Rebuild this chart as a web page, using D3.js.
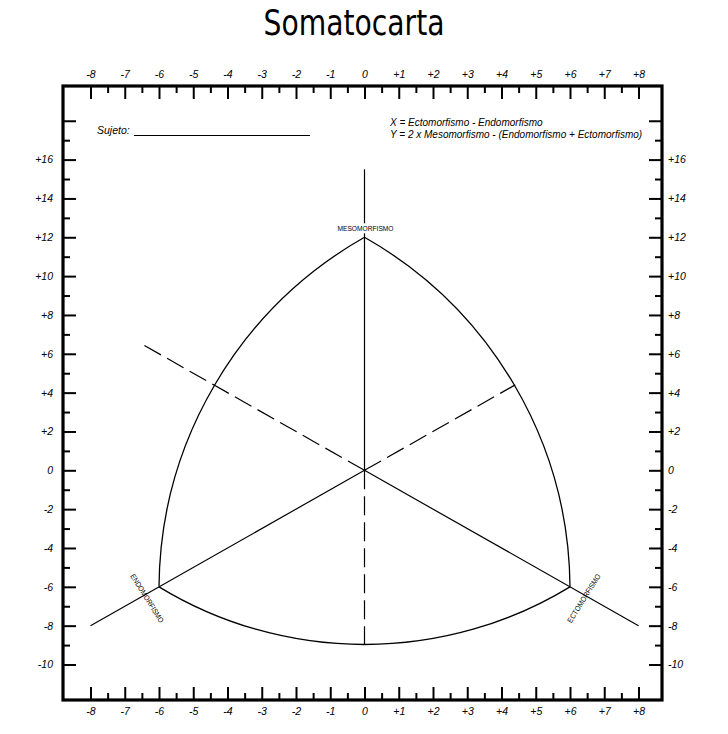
<!DOCTYPE html>
<html>
<head>
<meta charset="utf-8">
<script src="https://cdn.jsdelivr.net/npm/d3@7"></script>
<style>
  html, body { margin: 0; padding: 0; background: #fff; }
</style>
</head>
<body>
<svg id="chart" width="728" height="734"></svg>
<script>
// ---------------- DATA ----------------
const chartTitle = "Somatocarta";
const subjectLabel = "Sujeto:";
const formulaLines = [
  "X = Ectomorfismo - Endomorfismo",
  "Y = 2 x Mesomorfismo - (Endomorfismo + Ectomorfismo)"
];

const xMajorTicks = [-8, -7, -6, -5, -4, -3, -2, -1, 0, 1, 2, 3, 4, 5, 6, 7, 8];
const xTickLabels = ["-8", "-7", "-6", "-5", "-4", "-3", "-2", "-1", "0", "+1", "+2", "+3", "+4", "+5", "+6", "+7", "+8"];
const xMinorTicks = [-7.5, -6.5, -5.5, -4.5, -3.5, -2.5, -1.5, -0.5, 0.5, 1.5, 2.5, 3.5, 4.5, 5.5, 6.5, 7.5];

const yMajorTicks = [-10, -8, -6, -4, -2, 0, 2, 4, 6, 8, 10, 12, 14, 16, 18];
const yTickLabels = ["-10", "-8", "-6", "-4", "-2", "0", "+2", "+4", "+6", "+8", "+10", "+12", "+14", "+16", ""];
const yMinorTicks = [-9, -7, -5, -3, -1, 1, 3, 5, 7, 9, 11, 13, 15, 17];

// Somatotype poles
const poleNames = ["MESOMORFISMO", "ENDOMORFISMO", "ECTOMORFISMO"];
const poleX = [0, -6, 6];
const poleY = [12, -6, -6];

// Boundary arcs: [from pole, to pole, a point on the arc]
const arcFrom = [0, 0, 1];
const arcTo = [1, 2, 2];
const arcMidX = [-5.0, 5.0, 0];
const arcMidY = [2.23, 2.23, -8.97];

// Axes of the somatochart (solid and dashed parts)
const solidSegments = [
  [[0, 15.5], [0, 0]],      // mesomorph axis
  [[-8, -8], [0, 0]],       // endomorph axis
  [[8, -8], [0, 0]]         // ectomorph axis
];
const dashedSegments = [
  [[0, 0], [0, -8.97]],
  [[0, 0], [4.4, 4.4]],
  [[0, 0], [-6.45, 6.45]]
];

// ---------------- LAYOUT ----------------
const frame = { left: 63, top: 86, right: 662, bottom: 700 };
const svg = d3.select("#chart");

const x = d3.scaleLinear().domain([-8, 8]).range([90.5, 638.5]);
const y = d3.scaleLinear().domain([-10, 16]).range([664.5, 159.6]);

const tickFont = "'Liberation Sans', Arial, Helvetica, sans-serif";

// Title
svg.append("text")
  .attr("x", 354).attr("y", 35)
  .attr("text-anchor", "middle")
  .attr("font-family", "'DejaVu Sans', sans-serif")
  .attr("font-size", 35)
  .attr("textLength", 181)
  .attr("lengthAdjust", "spacingAndGlyphs")
  .attr("fill", "#000")
  .text(chartTitle);

// Axes
function styleAxis(g, withText) {
  g.select(".domain").remove();
  g.selectAll(".tick line").attr("stroke", "#000").attr("stroke-width", 2);
  g.attr("font-family", tickFont).attr("font-size", 10.5).attr("font-style", "italic");
  g.selectAll(".tick text").attr("fill", "#000");
  if (!withText) g.selectAll(".tick text").remove();
}

const xLabelOf = d => xTickLabels[xMajorTicks.indexOf(d)];
const yLabelOf = d => yTickLabels[yMajorTicks.indexOf(d)];

svg.append("g").attr("transform", `translate(0,${frame.top})`)
  .call(d3.axisTop(x).tickValues(xMajorTicks).tickSize(-13).tickPadding(8).tickFormat(xLabelOf))
  .call(g => styleAxis(g, true));
svg.append("g").attr("transform", `translate(0,${frame.top})`)
  .call(d3.axisTop(x).tickValues(xMinorTicks).tickSize(-7))
  .call(g => styleAxis(g, false));
svg.append("g").attr("transform", `translate(0,${frame.bottom})`)
  .call(d3.axisBottom(x).tickValues(xMajorTicks).tickSize(-13).tickPadding(8).tickFormat(xLabelOf))
  .call(g => styleAxis(g, true));
svg.append("g").attr("transform", `translate(0,${frame.bottom})`)
  .call(d3.axisBottom(x).tickValues(xMinorTicks).tickSize(-7))
  .call(g => styleAxis(g, false));
svg.append("g").attr("transform", `translate(${frame.left},0)`)
  .call(d3.axisLeft(y).tickValues(yMajorTicks).tickSize(-13).tickPadding(10).tickFormat(yLabelOf))
  .call(g => styleAxis(g, true));
svg.append("g").attr("transform", `translate(${frame.left},0)`)
  .call(d3.axisLeft(y).tickValues(yMinorTicks).tickSize(-7))
  .call(g => styleAxis(g, false));
svg.append("g").attr("transform", `translate(${frame.right},0)`)
  .call(d3.axisRight(y).tickValues(yMajorTicks).tickSize(-13).tickPadding(6).tickFormat(yLabelOf))
  .call(g => styleAxis(g, true));
svg.append("g").attr("transform", `translate(${frame.right},0)`)
  .call(d3.axisRight(y).tickValues(yMinorTicks).tickSize(-7))
  .call(g => styleAxis(g, false));

// Frame
svg.append("rect")
  .attr("x", frame.left).attr("y", frame.top)
  .attr("width", frame.right - frame.left).attr("height", frame.bottom - frame.top)
  .attr("fill", "none").attr("stroke", "#000").attr("stroke-width", 3.2);

// Subject line
svg.append("text")
  .attr("x", 97).attr("y", 134)
  .attr("font-family", tickFont).attr("font-size", 10.5).attr("font-style", "italic")
  .text(subjectLabel);
svg.append("line")
  .attr("x1", 134).attr("x2", 310).attr("y1", 135.5).attr("y2", 135.5)
  .attr("stroke", "#000").attr("stroke-width", 1);

// Formula
svg.append("g").selectAll("text").data(formulaLines).join("text")
  .attr("x", 390).attr("y", (d, i) => 126 + i * 11.5)
  .attr("font-family", tickFont).attr("font-size", 10).attr("font-style", "italic")
  .text(d => d);

// Straight axes
const line = d3.line().x(d => x(d[0])).y(d => y(d[1]));
svg.append("g").selectAll("path").data(solidSegments).join("path")
  .attr("d", line).attr("fill", "none").attr("stroke", "#000").attr("stroke-width", 1.2);
svg.append("g").selectAll("path").data(dashedSegments).join("path")
  .attr("d", line).attr("fill", "none").attr("stroke", "#000").attr("stroke-width", 1.2)
  .attr("stroke-dasharray", "19,7");

// Boundary arcs: circle through the two poles and the arc point (screen space)
function circumcircle(a, b, c) {
  const d = 2 * (a[0] * (b[1] - c[1]) + b[0] * (c[1] - a[1]) + c[0] * (a[1] - b[1]));
  const a2 = a[0] * a[0] + a[1] * a[1], b2 = b[0] * b[0] + b[1] * b[1], c2 = c[0] * c[0] + c[1] * c[1];
  const cx = (a2 * (b[1] - c[1]) + b2 * (c[1] - a[1]) + c2 * (a[1] - b[1])) / d;
  const cy = (a2 * (c[0] - b[0]) + b2 * (a[0] - c[0]) + c2 * (b[0] - a[0])) / d;
  return [cx, cy, Math.hypot(a[0] - cx, a[1] - cy)];
}
function arcPath(i) {
  const p = [x(poleX[arcFrom[i]]), y(poleY[arcFrom[i]])];
  const q = [x(poleX[arcTo[i]]), y(poleY[arcTo[i]])];
  const m = [x(arcMidX[i]), y(arcMidY[i])];
  const [cx, cy, r] = circumcircle(p, q, m);
  const TAU = 2 * Math.PI;
  const a0 = Math.atan2(p[1] - cy, p[0] - cx);
  const a1 = Math.atan2(q[1] - cy, q[0] - cx);
  const am = Math.atan2(m[1] - cy, m[0] - cx);
  const norm = v => ((v % TAU) + TAU) % TAU;
  const ccw = !(norm(am - a0) < norm(a1 - a0));
  const path = d3.path();
  path.moveTo(p[0], p[1]);
  path.arc(cx, cy, r, a0, a1, ccw);
  return path.toString();
}
svg.append("g").selectAll("path").data(arcFrom).join("path")
  .attr("d", (d, i) => arcPath(i))
  .attr("fill", "none").attr("stroke", "#000").attr("stroke-width", 1.3);

// Pole labels
const labelFont = "'Liberation Sans Narrow', 'Liberation Sans', Arial, sans-serif";
const poleLabelOffsets = [[1, -9, 0], [-12, 11.5, 58], [14, 11.5, -58]];
const labels = svg.append("g").selectAll("g").data(poleNames).join("g")
  .attr("transform", (d, i) => {
    const o = poleLabelOffsets[i];
    return `translate(${x(poleX[i]) + o[0]},${y(poleY[i]) + o[1]}) rotate(${o[2]})`;
  });
labels.filter((d, i) => i === 0).append("rect")
  .attr("x", -29).attr("y", -5).attr("width", 58).attr("height", 10)
  .attr("fill", "#fff");
labels.append("text")
  .attr("text-anchor", "middle")
  .attr("dominant-baseline", "central")
  .attr("font-family", labelFont)
  .attr("font-size", 7.5)
  .attr("textLength", 56)
  .attr("lengthAdjust", "spacingAndGlyphs")
  .attr("fill", "#000")
  .text(d => d);
</script>
</body>
</html>
